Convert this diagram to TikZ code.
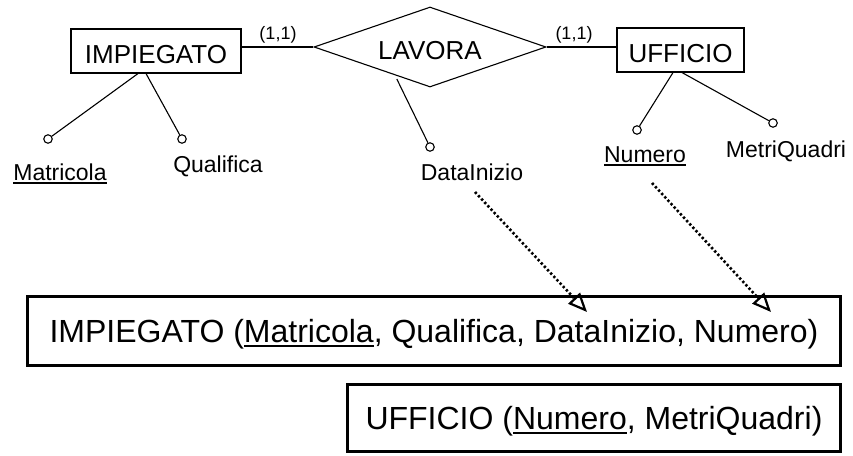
\documentclass[tikz,border=0pt]{standalone}
\usepackage{fontspec}
\setmainfont{Liberation Sans}
\usetikzlibrary{shapes.geometric,arrows.meta}

% underline for key attributes
\newcommand\keyattr[1]{\setbox0\hbox{#1}\rlap{\rule[-0.16em]{\wd0}{0.075em}}\box0}

\begin{document}
\begin{tikzpicture}[x=1pt,y=-1pt,
  bigfont/.style={font=\fontsize{26}{30}\selectfont,text height=24pt,text depth=0pt},
  entity/.style={draw,line width=1.1pt,minimum height=44pt,inner sep=0pt,bigfont},
  relship/.style={draw,diamond,aspect=3,line width=1.1pt,minimum width=232pt,minimum height=80pt,inner sep=0pt,bigfont},
  attrdot/.style={draw,circle,line width=1.1pt,fill=white,minimum size=8.5pt,inner sep=0pt},
  attrlabel/.style={anchor=base,inner sep=0pt,font=\fontsize{23}{27}\selectfont},
  card/.style={inner sep=0pt,font=\fontsize{18}{21}\selectfont},
  link/.style={line width=1.1pt},
  schema/.style={draw,line width=3pt,inner sep=0pt,font=\fontsize{32}{38}\selectfont,text height=26pt,text depth=4pt},
  mapsto/.style={line width=2.6pt,dash pattern=on 2.4pt off 2.2pt,
    -{Triangle[open,length=19pt,width=16pt,line width=2.2pt]}}
]
\useasboundingbox (0,0) rectangle (853,455);

% E-R schema
\node[entity,minimum width=170pt] (imp) at (156,51) {IMPIEGATO};
\node[entity,minimum width=127pt] (uff) at (680.5,50) {UFFICIO};
\node[relship] (lav) at (430,47) {LAVORA};
\draw[link] (lav.west) -- (lav.west -| imp.east);
\draw[link] (lav.east) -- (lav.east -| uff.west);
\node[card] (k1) at (278,35) {(1,1)};
\node[card] (k2) at (574,35) {(1,1)};

% attributes
\node[attrdot] (cmat) at (48,139) {};
\node[attrlabel] (lmat) at (60,180) {\keyattr{Matricola}};
\draw[link] ([xshift=-18pt]imp.south) -- (cmat);

\node[attrdot] (cqua) at (182,139) {};
\node[attrlabel] (lqua) at (218,172) {Qualifica};
\draw[link] ([xshift=-10pt]imp.south) -- (cqua);

\node[attrdot] (cdat) at (430,147) {};
\node[attrlabel] (ldat) at (472,180) {DataInizio};
\path (lav.west) -- (lav.south) coordinate[pos=0.7] (edat);
\draw[link,shorten <=4pt] (edat) -- (cdat);

\node[attrdot] (cnum) at (637,130) {};
\node[attrlabel] (lnum) at (645,162) {\keyattr{Numero}};
\draw[link] ([xshift=-7.5pt]uff.south) -- (cnum);

\node[attrdot] (cmet) at (773,123) {};
\node[attrlabel] (lmet) at (786,157) {MetriQuadri};
\draw[link] ([xshift=1.5pt]uff.south) -- (cmet);

% relational schema
\node[schema,minimum width=813pt,minimum height=69pt] (rimp) at (434,331)
  {IMPIEGATO (\keyattr{Matricola}, Qualifica, DataInizio, Numero)};
\node[schema,minimum width=493pt,minimum height=67pt] (ruff) at (594,418)
  {UFFICIO (\keyattr{Numero}, MetriQuadri)};

% translation of the attributes
\coordinate (s1) at (475,192);
\coordinate (e1) at (587,312);
\coordinate (s2) at (652,183);
\coordinate (e2) at (771,312);
\draw[mapsto] (s1) -- (e1);
\draw[mapsto] (s2) -- (e2);
\end{tikzpicture}
\end{document}
